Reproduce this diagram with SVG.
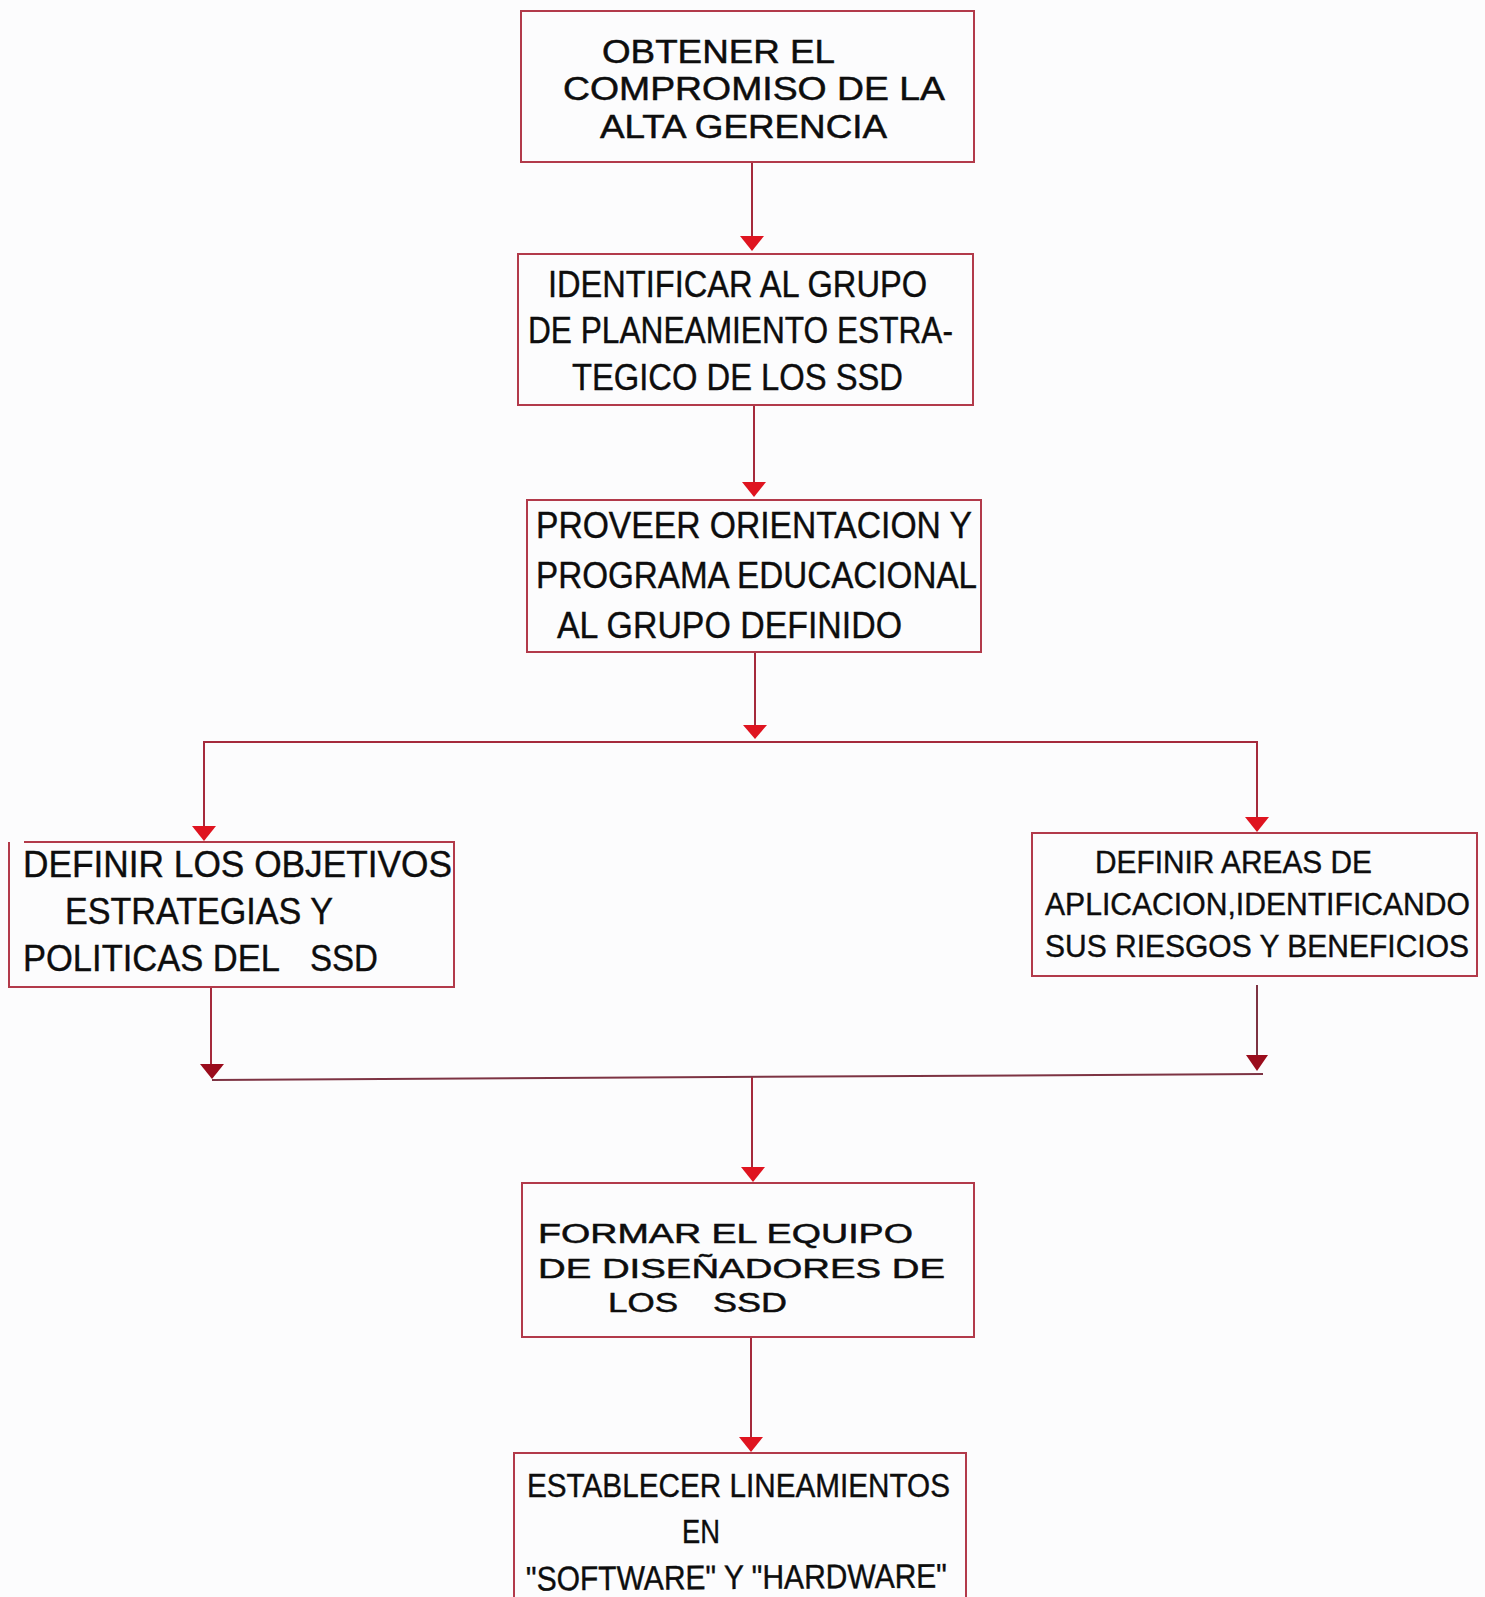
<svg xmlns="http://www.w3.org/2000/svg" width="1485" height="1597" viewBox="0 0 1485 1597">
  <style>
    .box { fill: none; stroke: #b23a4a; stroke-width: 2; }
    .wire { fill: none; stroke: #a52a3c; stroke-width: 2; }
    .wire-dark { fill: none; stroke: #7d3343; stroke-width: 2; }
    .head { fill: #df1420; }
    .head-dark { fill: #9a0c1c; }
    .wide { font-family: "Liberation Sans", Arial, sans-serif; fill: #0d0d0d; stroke: #0d0d0d; stroke-width: 0.5; }
    .cond { font-family: "Liberation Sans", Arial, sans-serif; fill: #0d0d0d; stroke: #0d0d0d; stroke-width: 0.4; }
  </style>
  <rect x="0" y="0" width="1485" height="1597" fill="#fcfcfd"/>

  <!-- connectors -->
  <g id="connectors">
    <line class="wire" x1="752" y1="162" x2="752" y2="238"/>
    <polygon class="head" points="740,236 764,236 752,251"/>

    <line class="wire" x1="754" y1="405" x2="754" y2="484"/>
    <polygon class="head" points="742,482 766,482 754,497"/>

    <line class="wire" x1="755" y1="652" x2="755" y2="727"/>
    <polygon class="head" points="743,725 767,725 755,739"/>

    <!-- split bus -->
    <polyline class="wire" points="204,828 204,742 1257,742 1257,818"/>
    <polygon class="head" points="192,826 216,826 204,841"/>
    <polygon class="head" points="1245,817 1269,817 1257,832"/>

    <!-- join bus -->
    <line class="wire" x1="211" y1="987" x2="211" y2="1066"/>
    <polygon class="head-dark" points="200,1064 224,1064 212,1079"/>
    <line class="wire-dark" x1="1257" y1="985" x2="1257" y2="1057"/>
    <polygon class="head-dark" points="1246,1055 1268,1055 1257,1071"/>
    <line class="wire-dark" x1="212" y1="1080" x2="1263" y2="1074"/>

    <line class="wire" x1="752" y1="1077" x2="752" y2="1169"/>
    <polygon class="head" points="741,1167 765,1167 753,1182"/>

    <line class="wire" x1="751" y1="1337" x2="751" y2="1439"/>
    <polygon class="head" points="739,1437 763,1437 751,1452"/>
  </g>

  <g id="n1">
    <rect class="box" x="521" y="11" width="453" height="151"/>
    <text class="wide" font-size="34" x="602" y="63" textLength="233" lengthAdjust="spacingAndGlyphs">OBTENER EL</text>
    <text class="wide" font-size="33" x="563" y="100" textLength="382" lengthAdjust="spacingAndGlyphs">COMPROMISO DE LA</text>
    <text class="wide" font-size="33" x="600" y="138" textLength="287" lengthAdjust="spacingAndGlyphs">ALTA GERENCIA</text>
  </g>

  <g id="n2">
    <rect class="box" x="518" y="254" width="455" height="151"/>
    <text class="cond" font-size="37" x="548" y="297" textLength="379" lengthAdjust="spacingAndGlyphs">IDENTIFICAR AL GRUPO</text>
    <text class="cond" font-size="37" x="528" y="343" textLength="425" lengthAdjust="spacingAndGlyphs">DE PLANEAMIENTO ESTRA-</text>
    <text class="cond" font-size="37" x="572" y="390" textLength="331" lengthAdjust="spacingAndGlyphs">TEGICO DE LOS SSD</text>
  </g>

  <g id="n3">
    <rect class="box" x="527" y="500" width="454" height="152"/>
    <text class="cond" font-size="37" x="536" y="538" textLength="436" lengthAdjust="spacingAndGlyphs">PROVEER ORIENTACION Y</text>
    <text class="cond" font-size="37" x="536" y="588" textLength="441" lengthAdjust="spacingAndGlyphs">PROGRAMA EDUCACIONAL</text>
    <text class="cond" font-size="37" x="557" y="638" textLength="345" lengthAdjust="spacingAndGlyphs">AL GRUPO DEFINIDO</text>
  </g>

  <g id="n4">
    <path class="box" d="M24 842 H454 V987 H9 V842"/>
    <text class="cond" font-size="37" x="23" y="877" textLength="429" lengthAdjust="spacingAndGlyphs">DEFINIR LOS OBJETIVOS</text>
    <text class="cond" font-size="37" x="65" y="924" textLength="268" lengthAdjust="spacingAndGlyphs">ESTRATEGIAS Y</text>
    <text class="cond" font-size="37" x="23" y="971" textLength="257" lengthAdjust="spacingAndGlyphs">POLITICAS DEL</text>
    <text class="cond" font-size="37" x="310" y="971" textLength="68" lengthAdjust="spacingAndGlyphs">SSD</text>
  </g>

  <g id="n5">
    <rect class="box" x="1032" y="833" width="445" height="143"/>
    <text class="cond" font-size="31" x="1095" y="873" textLength="277" lengthAdjust="spacingAndGlyphs">DEFINIR AREAS DE</text>
    <text class="cond" font-size="31" x="1045" y="915" textLength="425" lengthAdjust="spacingAndGlyphs">APLICACION,IDENTIFICANDO</text>
    <text class="cond" font-size="31" x="1045" y="957" textLength="424" lengthAdjust="spacingAndGlyphs">SUS RIESGOS Y BENEFICIOS</text>
  </g>

  <g id="n6">
    <rect class="box" x="522" y="1183" width="452" height="154"/>
    <text class="wide" font-size="27" x="538" y="1243" textLength="375" lengthAdjust="spacingAndGlyphs">FORMAR EL EQUIPO</text>
    <text class="wide" font-size="27" x="538" y="1278" textLength="407" lengthAdjust="spacingAndGlyphs">DE DISEÑADORES DE</text>
    <text class="wide" font-size="27" x="608" y="1312" textLength="70" lengthAdjust="spacingAndGlyphs">LOS</text>
    <text class="wide" font-size="27" x="713" y="1312" textLength="74" lengthAdjust="spacingAndGlyphs">SSD</text>
  </g>

  <g id="n7">
    <path class="box" d="M514 1600 V1453 H966 V1600"/>
    <text class="cond" font-size="34" x="527" y="1497" textLength="423" lengthAdjust="spacingAndGlyphs">ESTABLECER LINEAMIENTOS</text>
    <text class="cond" font-size="34" x="682" y="1543" textLength="38" lengthAdjust="spacingAndGlyphs">EN</text>
    <text class="cond" font-size="34" x="526" y="1589" textLength="421" lengthAdjust="spacingAndGlyphs" transform="rotate(-0.4 736 1587)">"SOFTWARE" Y "HARDWARE"</text>
  </g>
</svg>
